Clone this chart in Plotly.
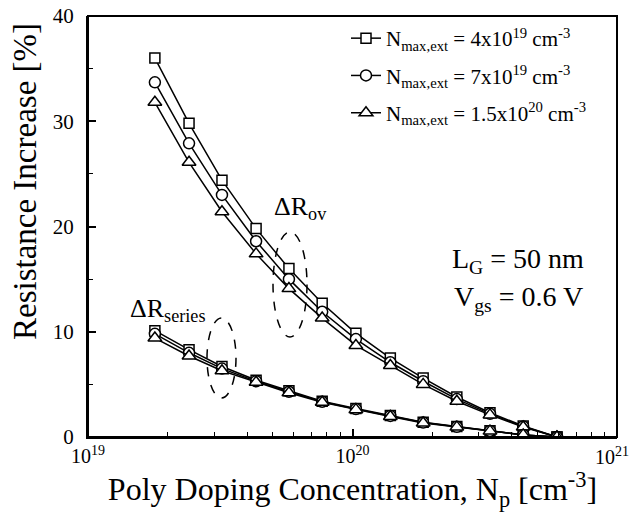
import plotly.graph_objects as go

# Data
Np = [1.79e19, 2.41e19, 3.21e19, 4.32e19, 5.75e19, 7.68e19, 1.03e20,
      1.39e20, 1.85e20, 2.48e20, 3.31e20, 4.42e20, 5.93e20]

ov_4e19 = [36.0, 29.8, 24.4, 19.8, 16.0, 12.7, 9.85, 7.5, 5.6, 3.8, 2.3, 1.05, 0.0]
ov_7e19 = [33.7, 27.9, 23.0, 18.6, 15.0, 11.9, 9.3, 7.1, 5.3, 3.6, 2.2, 1.0, 0.0]
ov_15e20 = [31.8, 26.1, 21.4, 17.4, 14.1, 11.3, 8.7, 6.8, 5.0, 3.4, 2.1, 0.95, 0.0]

se_4e19 = [10.1, 8.3, 6.7, 5.4, 4.4, 3.4, 2.7, 2.05, 1.4, 1.0, 0.6, 0.2, 0.0]
se_7e19 = [9.8, 8.0, 6.5, 5.3, 4.3, 3.35, 2.65, 2.0, 1.37, 0.97, 0.58, 0.2, 0.0]
se_15e20 = [9.4, 7.7, 6.3, 5.2, 4.2, 3.3, 2.6, 1.95, 1.33, 0.94, 0.56, 0.2, 0.0]

legend_names = ["N<sub>max,ext</sub> = 4x10<sup>19</sup> cm<sup>-3</sup>",
                "N<sub>max,ext</sub> = 7x10<sup>19</sup> cm<sup>-3</sup>",
                "N<sub>max,ext</sub> = 1.5x10<sup>20</sup> cm<sup>-3</sup>"]
symbols = ["square", "circle", "triangle-up"]
msizes = [10, 11, 12]

x_tickvals = [1e19, 1e20, 1e21]
x_ticktext = ["10<sup>19</sup>", "10<sup>20</sup>", ""]
x_last_label = "10<sup>21</sup>"
y_tickvals = [0, 10, 20, 30, 40]

FONT = "Liberation Serif"

fig = go.Figure()
ov_sets = [ov_4e19, ov_7e19, ov_15e20]
se_sets = [se_4e19, se_7e19, se_15e20]
for i in range(3):
    mk = dict(symbol=symbols[i], size=msizes[i], color="white",
              line=dict(color="black", width=1.5))
    fig.add_trace(go.Scatter(x=Np, y=ov_sets[i], mode="lines+markers",
                             name=legend_names[i], legendgroup="g%d" % i,
                             line=dict(color="black", width=1.5),
                             marker=mk, showlegend=True))
for i in range(3):
    mk = dict(symbol=symbols[i], size=msizes[i], color="white",
              line=dict(color="black", width=1.5))
    fig.add_trace(go.Scatter(x=Np, y=se_sets[i], mode="lines+markers",
                             name=legend_names[i], legendgroup="g%d" % i,
                             line=dict(color="black", width=1.5),
                             marker=mk, showlegend=False))

def px(xp):
    return (xp - 88) / 529.0

def py(yp):
    return (437 - yp) / 421.0

annotations = [
    dict(text="Resistance Increase [%]", x=px(25), y=py(182), textangle=-90,
         font=dict(size=33)),
    dict(text="ΔR<sub>ov</sub>", x=px(300), y=py(208), font=dict(size=26)),
    dict(text="ΔR<sub>series</sub>", x=px(167), y=py(310), font=dict(size=26)),
    dict(text="L<sub>G</sub> = 50 nm", x=px(518), y=py(260), font=dict(size=28)),
    dict(text="V<sub>gs</sub> = 0.6 V", x=px(518), y=py(298), font=dict(size=28)),
]
for a in annotations:
    a.update(xref="paper", yref="paper", showarrow=False,
             xanchor="center", yanchor="middle")
    a["font"].update(family=FONT, color="black")
# last x tick label, kept fully inside the picture
annotations.append(dict(text=x_last_label, xref="paper", yref="paper", x=px(631), y=0,
                        xanchor="right", yanchor="top", yshift=-5, showarrow=False,
                        font=dict(size=20, family=FONT, color="black")))

shapes = [
    dict(type="rect", xref="paper", yref="paper", x0=0, x1=1, y0=0, y1=1,
         line=dict(color="black", width=2), layer="above"),
    dict(type="circle", xref="paper", yref="paper",
         x0=px(273), x1=px(307), y0=py(337), y1=py(232),
         line=dict(color="black", width=1.5, dash="dash")),
    dict(type="circle", xref="paper", yref="paper",
         x0=px(207), x1=px(236), y0=py(398), y1=py(318),
         line=dict(color="black", width=1.5, dash="dash")),
]

fig.update_layout(
    width=632, height=522,
    margin=dict(l=88, r=15, t=16, b=85),
    paper_bgcolor="white", plot_bgcolor="white",
    font=dict(family=FONT, color="black", size=20),
    showlegend=True,
    legend=dict(x=px(346), y=py(18), xanchor="left", yanchor="top",
                bgcolor="rgba(0,0,0,0)", font=dict(size=21, family=FONT),
                tracegroupgap=7),
    annotations=annotations,
    shapes=shapes,
)
fig.update_xaxes(type="log", range=[19, 21], tickvals=x_tickvals, ticktext=x_ticktext,
                 showgrid=False, zeroline=False, showline=True, linecolor="black",
                 linewidth=2, ticks="inside", ticklen=8, tickwidth=1.5,
                 tickcolor="black", tickfont=dict(size=20, family=FONT),
                 automargin=False,
                 minor=dict(ticks="inside", ticklen=5, tickwidth=1.2, tickcolor="black",
                            dtick="D1", showgrid=False),
                 title=dict(text="Poly Doping Concentration, N<sub>p</sub> [cm<sup>-3</sup>]",
                            font=dict(size=32, family=FONT), standoff=2))
fig.update_yaxes(range=[0, 40], tickvals=y_tickvals, showgrid=False, zeroline=False,
                 showline=True, linecolor="black", linewidth=2, automargin=False,
                 ticks="inside", ticklen=8, tickwidth=1.5, tickcolor="black",
                 tickfont=dict(size=21, family=FONT), ticklabelstandoff=8,
                 minor=dict(ticks="inside", ticklen=5, tickwidth=1.2, tickcolor="black",
                            dtick=5, showgrid=False))

fig.write_html("out.html", config={"displayModeBar": False},
               post_script="document.body.style.margin='0';document.body.style.overflow='hidden';")
